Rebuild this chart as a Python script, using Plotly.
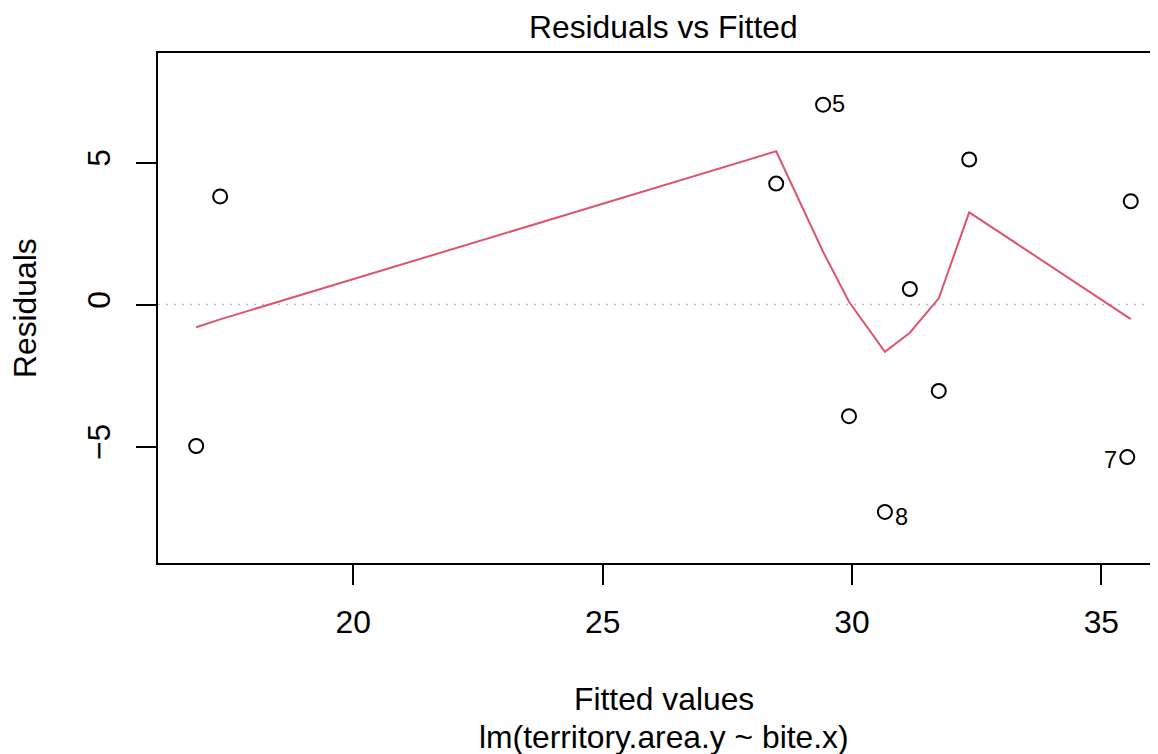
import plotly.graph_objects as go

# Fitted values and residuals (observation order as read)
fitted = [16.85, 17.33, 28.48, 29.42, 29.94, 30.66, 31.16, 31.74, 32.35, 35.52, 35.59]
resid = [-4.98, 3.81, 4.26, 7.04, -3.93, -7.30, 0.55, -3.04, 5.11, -5.37, 3.64]
obs_id = ["", "", "", "5", "", "8", "", "", "", "7", ""]

# Smoother (lowess) evaluated at sorted fitted values
smooth_x = [16.85, 17.33, 28.48, 29.42, 29.94, 30.66, 31.16, 31.74, 32.35, 35.52, 35.59]
smooth_y = [-0.80, -0.52, 5.40, 1.86, 0.10, -1.66, -0.99, 0.22, 3.25, -0.44, -0.51]

x_ticks = [20, 25, 30, 35]
y_ticks = [-5, 0, 5]

FONT = "Liberation Sans, Arial, sans-serif"
FS = 31.8

fig = go.Figure()
fig.add_hline(y=0, line=dict(color="#BEBEBE", width=1.5, dash="2px,6px"), layer="below")
fig.add_trace(go.Scatter(x=smooth_x, y=smooth_y, mode="lines",
                         line=dict(color="#DF536B", width=2), hoverinfo="skip"))
fig.add_trace(go.Scatter(x=fitted, y=resid, mode="markers",
                         marker=dict(symbol="circle-open", size=14, color="black",
                                     line=dict(color="black", width=2))))

# id labels
label_pos = {"5": ("left", 7, 1), "8": ("left", 8, -5), "7": ("right", -8, -3)}
for xv, yv, lab in zip(fitted, resid, obs_id):
    if lab:
        anchor, dx, dy = label_pos[lab]
        fig.add_annotation(x=xv, y=yv, text=lab, showarrow=False, xanchor=anchor,
                           yanchor="middle", xshift=dx, yshift=dy,
                           font=dict(family=FONT, size=23.5, color="black"))

fig.add_annotation(text="Residuals vs Fitted", xref="paper", yref="paper",
                   x=0.5055, y=1.050, xanchor="center", yanchor="middle", showarrow=False,
                   font=dict(family=FONT, size=FS, color="black"))
fig.add_annotation(text="Fitted values", xref="paper", yref="paper",
                   x=0.5055, y=-0.266, xanchor="center", yanchor="middle", showarrow=False,
                   font=dict(family=FONT, size=FS, color="black"))
fig.add_annotation(text="lm(territory.area.y ~ bite.x)", xref="paper", yref="paper",
                   x=0.5055, y=-0.341, xanchor="center", yanchor="middle", showarrow=False,
                   font=dict(family=FONT, size=FS, color="black"))
fig.add_annotation(text="Residuals", xref="paper", yref="paper",
                   x=-0.133, y=0.5, xanchor="center", yanchor="middle", showarrow=False,
                   textangle=-90, font=dict(family=FONT, size=FS, color="black"))

fig.update_layout(
    width=1150, height=746,
    margin=dict(l=150, r=0, t=45, b=191),
    paper_bgcolor="white", plot_bgcolor="white",
    showlegend=False,
    font=dict(family=FONT, size=FS, color="black"),
    xaxis=dict(range=[16.084, 36.136], tickvals=x_ticks, ticktext=[str(v) for v in x_ticks],
               showgrid=False, zeroline=False, showline=True, linecolor="black", linewidth=2,
               mirror=True, ticks="outside", ticklen=20, tickwidth=1.5, tickcolor="black",
               ticklabelstandoff=10),
    yaxis=dict(range=[-9.10, 8.86], tickvals=y_ticks, ticktext=["\u22125", "0", "5"],
               showgrid=False, zeroline=False, showline=True, linecolor="black", linewidth=2,
               mirror=False, ticks="outside", ticklen=20, tickwidth=1.5, tickcolor="black",
               tickangle=-90, ticklabelstandoff=13),
)

fig.write_html("out.html")
